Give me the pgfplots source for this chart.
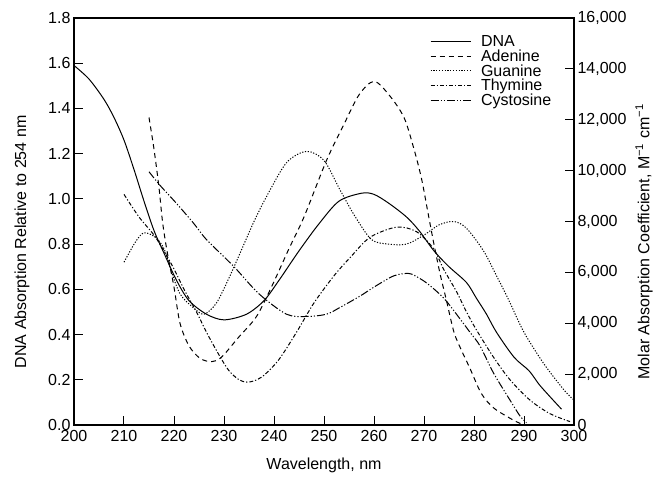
\documentclass[border=0pt]{standalone}
\usepackage{pgfplots}
\pgfplotsset{compat=1.18}
\usepackage{fontspec}
\setmainfont{Liberation Sans}

\newcommand\lblfont{\fontsize{16}{18}\selectfont}

\pgfplotsset{
  specaxis/.style={
    scale only axis, width=500pt, height=407pt,
    xmin=200, xmax=300,
    tick align=inside, major tick length=9pt,
    axis line style={line width=1.4pt},
    every tick/.style={black, line width=1pt},
    /pgf/number format/assume math mode=true,
    tick label style={font=\lblfont},
    label style={font=\lblfont},
  },
}

\begin{document}
\begin{tikzpicture}
\useasboundingbox (-74pt,-52pt) rectangle (585pt,425pt);
\begin{axis}[
  specaxis,
  ymin=0, ymax=1.8,
  xtick={200,210,...,300},
  ytick={0,0.2,0.4,0.6,0.8,1.0,1.2,1.4,1.6,1.8},
  xtick pos=bottom, ytick pos=left,
  y tick label style={/pgf/number format/.cd, fixed, fixed zerofill, precision=1},
  x tick label style={yshift=-2pt, /pgf/number format/.cd, 1000 sep={}},
  xlabel={Wavelength, nm},
  ylabel={DNA Absorption Relative to 254 nm},
  xlabel style={at={(axis description cs:0.5,-0.1)}, anchor=center},
  ylabel style={at={(axis description cs:-0.104,0.45)}, anchor=center},
  legend style={draw=none, fill=none, font=\lblfont,
    at={(axis description cs:0.965,0.968)}, anchor=north east,
    row sep=-2.2pt},
  legend cell align=left,
  legend image code/.code={\draw[#1] (0pt,0pt) -- (40pt,0pt); \path (48pt,0pt);},
]

% DNA
\addplot[black, line width=1pt, smooth, tension=0.5] coordinates {
(200,1.59)(203,1.53)(206,1.44)(208,1.36)(210,1.26)(212,1.13)(214,0.99)
(216,0.86)(218,0.76)(220.5,0.64)(223,0.55)(226.5,0.49)(230,0.465)
(234.5,0.49)(238,0.55)(241,0.64)(245,0.77)(249,0.89)(253,0.99)
(257.5,1.025)(260,1.02)(263,0.98)(266.5,0.92)(269,0.86)(272,0.77)
(275,0.70)(278.5,0.63)(280.5,0.56)(282.5,0.49)(284.5,0.41)(288,0.30)
(291,0.24)(293,0.18)(295,0.13)(297.5,0.07)
};
\addlegendentry{DNA}

% adenine
\addplot[black, line width=1pt, smooth, tension=0.5,
  dash pattern=on 5pt off 4pt] coordinates {
(215,1.36)(216,1.22)(217,1.05)(217.7,0.90)(218.6,0.77)(220,0.61)
(221.2,0.45)(223,0.35)(225.2,0.295)(227.5,0.28)(229.5,0.30)(233,0.39)
(236.5,0.48)(239.7,0.62)(243,0.78)(246,0.92)(250.5,1.17)(254,1.33)
(257,1.46)(260,1.52)(263,1.46)(266,1.36)(268,1.22)(269.5,1.09)
(270.7,0.95)(271.9,0.81)(273.2,0.67)(274.5,0.55)(276,0.41)(277.5,0.33)
(279.2,0.25)(281.2,0.15)(282.8,0.10)(284.5,0.066)(288,0.02)(290,0.0)
};
\addlegendentry{Adenine}

% guanine
\addplot[black, line width=1pt, smooth, tension=0.5,
  dash pattern=on 1.2pt off 1.6pt] coordinates {
(210,0.72)(212.3,0.81)(214,0.85)(216.3,0.83)(218,0.78)(219.3,0.69)
(221.2,0.58)(223.8,0.52)(226,0.49)(228.5,0.54)(231.2,0.66)(234,0.80)
(236,0.90)(238.5,1.01)(242.5,1.16)(246.5,1.21)(250,1.17)(253.2,1.04)
(256,0.93)(259.5,0.82)(263,0.80)(266.5,0.80)(270,0.84)(273,0.885)
(276,0.90)(278.5,0.87)(281.9,0.77)(284.5,0.66)(287,0.55)(290,0.41)
(294,0.27)(298,0.155)(300,0.11)
};
\addlegendentry{Guanine}

% thymine
\addplot[black, line width=1pt, smooth, tension=0.5,
  dash pattern=on 4pt off 2pt on 1.2pt off 2pt] coordinates {
(210,1.02)(213,0.92)(216,0.84)(218,0.77)(220,0.69)(222,0.60)
(224.5,0.50)(226.5,0.41)(229,0.31)(231,0.24)(233,0.20)(234.5,0.19)
(236,0.195)(238,0.22)(241,0.29)(244.5,0.41)(248,0.54)(252,0.66)
(255.2,0.74)(259.2,0.83)(264.5,0.875)(268.5,0.855)(271.9,0.78)
(273.9,0.69)(276.5,0.59)(278.5,0.50)(280.5,0.42)(283.9,0.30)
(287.2,0.20)(291.2,0.11)(295.2,0.05)(299.2,0.015)
};
\addlegendentry{Thymine}

% cytosine
\addplot[black, line width=1pt, smooth, tension=0.5,
  dash pattern=on 8pt off 2pt on 1.2pt off 2pt on 1.2pt off 2pt] coordinates {
(215,1.12)(217.2,1.06)(220.5,0.98)(224,0.89)(226.5,0.82)(232,0.70)
(237,0.58)(242.5,0.49)(246.5,0.48)(250.5,0.49)(253.2,0.52)(257.2,0.57)
(260,0.61)(264,0.66)(267,0.67)(269,0.65)(271,0.62)(274,0.56)
(276.5,0.49)(279.2,0.41)(281.2,0.35)(283.9,0.23)(287.2,0.11)
(289.2,0.04)(290.5,0.01)
};
\addlegendentry{Cystosine}
\end{axis}

\begin{axis}[
  specaxis,
  ymin=0, ymax=16000,
  axis x line=none, axis y line*=right,
  ytick={0,2000,4000,6000,8000,10000,12000,14000,16000},
  scaled y ticks=false,
  y tick label style={/pgf/number format/.cd, fixed, 1000 sep={,}},
  ylabel={Molar Absorption Coefficient, M\textsuperscript{−1} cm\textsuperscript{−1}},
  ylabel style={at={(axis description cs:1.14,0.45)}, anchor=center},
]
\end{axis}
\end{tikzpicture}
\end{document}
